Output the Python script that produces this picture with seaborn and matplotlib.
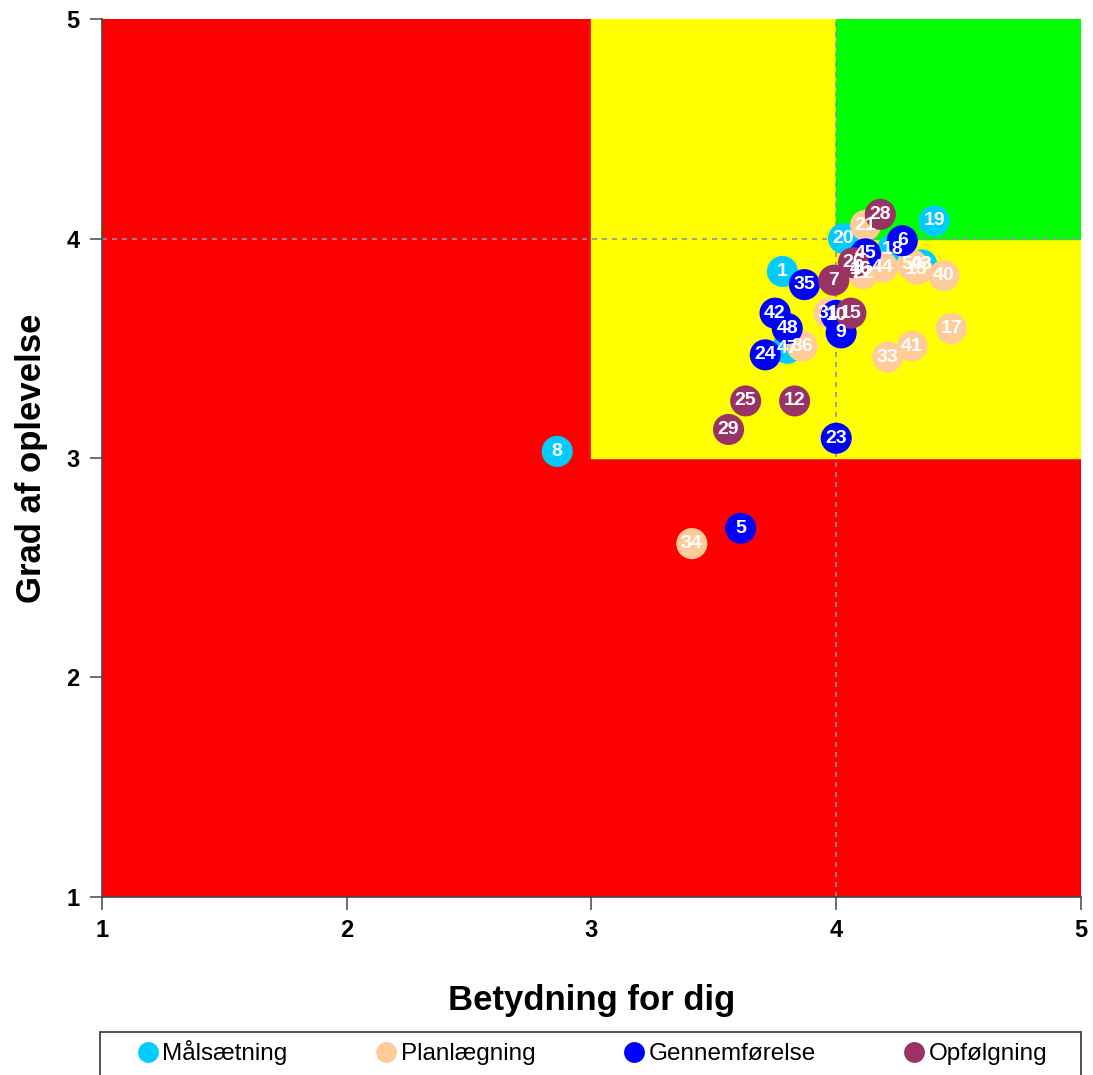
import pandas as pd
import matplotlib.pyplot as plt
import seaborn as sns
from matplotlib.patches import Rectangle

# question number, importance (x), experience (y), group
maal_nr = [1, 8, 19, 20, 47, 18, 43, 16]
maal_x = [3.78, 2.86, 4.40, 4.03, 3.80, 4.23, 4.35, 4.10]
maal_y = [3.85, 3.03, 4.08, 4.00, 3.50, 3.95, 3.88, 3.86]

plan_nr = [34, 17, 41, 33, 40, 36, 21, 44, 22, 13, 50, 31, 46]
plan_x = [3.41, 4.47, 4.31, 4.21, 4.44, 3.86, 4.12, 4.19, 4.11, 4.33, 4.31, 3.97, 4.10]
plan_y = [2.61, 3.59, 3.51, 3.46, 3.83, 3.51, 4.06, 3.87, 3.84, 3.86, 3.88, 3.66, 3.86]

genn_nr = [5, 23, 24, 42, 48, 35, 6, 9, 45, 10]
genn_x = [3.61, 4.00, 3.71, 3.75, 3.80, 3.87, 4.27, 4.02, 4.12, 4.00]
genn_y = [2.68, 3.09, 3.47, 3.66, 3.59, 3.79, 3.99, 3.57, 3.93, 3.65]

opf_nr = [28, 7, 15, 25, 12, 29, 26]
opf_x = [4.18, 3.99, 4.06, 3.63, 3.83, 3.56, 4.07]
opf_y = [4.11, 3.81, 3.66, 3.26, 3.26, 3.13, 3.89]

groups = ["Målsætning", "Planlægning", "Gennemførelse", "Opfølgning"]
colors = ["#00CCFF", "#FFCC99", "#0000FF", "#993366"]

frames = []
for g, nr, xs, ys in zip(groups, [maal_nr, plan_nr, genn_nr, opf_nr],
                         [maal_x, plan_x, genn_x, opf_x], [maal_y, plan_y, genn_y, opf_y]):
    frames.append(pd.DataFrame({"nr": nr, "x": xs, "y": ys, "gruppe": g}))
df = pd.concat(frames, ignore_index=True)

sns.set_style("white")
plt.rcParams['font.family'] = ['Liberation Sans', 'DejaVu Sans']
plt.rcParams['text.color'] = 'black'
plt.rcParams['axes.labelcolor'] = 'black'
plt.rcParams['xtick.color'] = '#555555'
plt.rcParams['ytick.color'] = '#555555'
plt.rcParams['xtick.labelcolor'] = 'black'
plt.rcParams['ytick.labelcolor'] = 'black'

fig = plt.figure(figsize=(10.93, 10.75), dpi=100)
ax = fig.add_axes([0.0933, 0.1656, 0.8957, 0.8167])

# coloured zones
ax.add_patch(Rectangle((1, 1), 4, 4, color="#FF0000", zorder=0))
ax.add_patch(Rectangle((3, 3), 2, 2, color="#FFFF00", zorder=0))
ax.add_patch(Rectangle((4, 4), 1, 1, color="#00FF00", zorder=0))
ax.axvline(4, color="#9090B0", ls=(0, (3, 3)), lw=1.2, zorder=1)
ax.axhline(4, color="#9090B0", ls=(0, (3, 3)), lw=1.2, zorder=1)

sns.scatterplot(data=df, x="x", y="y", hue="gruppe", palette=colors,
                hue_order=groups, s=500, edgecolor="none", ax=ax, legend=False, zorder=3)

for _, r in df.iterrows():
    ax.text(r["x"], r["y"], str(r["nr"]), color="white", fontsize=14, fontweight="bold",
            ha="center", va="center", zorder=4)

ax.set_xlim(1, 5)
ax.set_ylim(1, 5)
ax.set_xticks([1, 2, 3, 4, 5])
ax.set_yticks([1, 2, 3, 4, 5])
ax.tick_params(axis="both", labelsize=17, length=9, width=1.2, direction="out",
               bottom=True, left=True, pad=7)
for lab in ax.get_xticklabels() + ax.get_yticklabels():
    lab.set_fontweight("bold")
for s in ["top", "right"]:
    ax.spines[s].set_visible(False)
for s in ["left", "bottom"]:
    ax.spines[s].set_color("#444444")
    ax.spines[s].set_linewidth(1.2)

ax.set_xlabel("Betydning for dig", fontsize=25, fontweight="bold", labelpad=30)
ax.set_ylabel("Grad af oplevelse", fontsize=25, fontweight="bold", labelpad=13)

# legend box along the bottom
fig.patches.append(Rectangle((100 / 1093, -0.01), 981 / 1093, 43 / 1075 + 0.01,
                             transform=fig.transFigure, fill=False,
                             edgecolor="#333333", linewidth=1.2))
handles = [plt.Line2D([], [], marker="o", ls="", markersize=15, color=c, markeredgecolor="none")
           for c in colors]
fig.legend(handles, groups, loc="center", ncol=4, bbox_to_anchor=(592 / 1093, 0.0205),
           fontsize=17.5, frameon=False, handletextpad=0.15, handlelength=0.9,
           columnspacing=3.6)

fig.savefig("out.png", dpi=100)
